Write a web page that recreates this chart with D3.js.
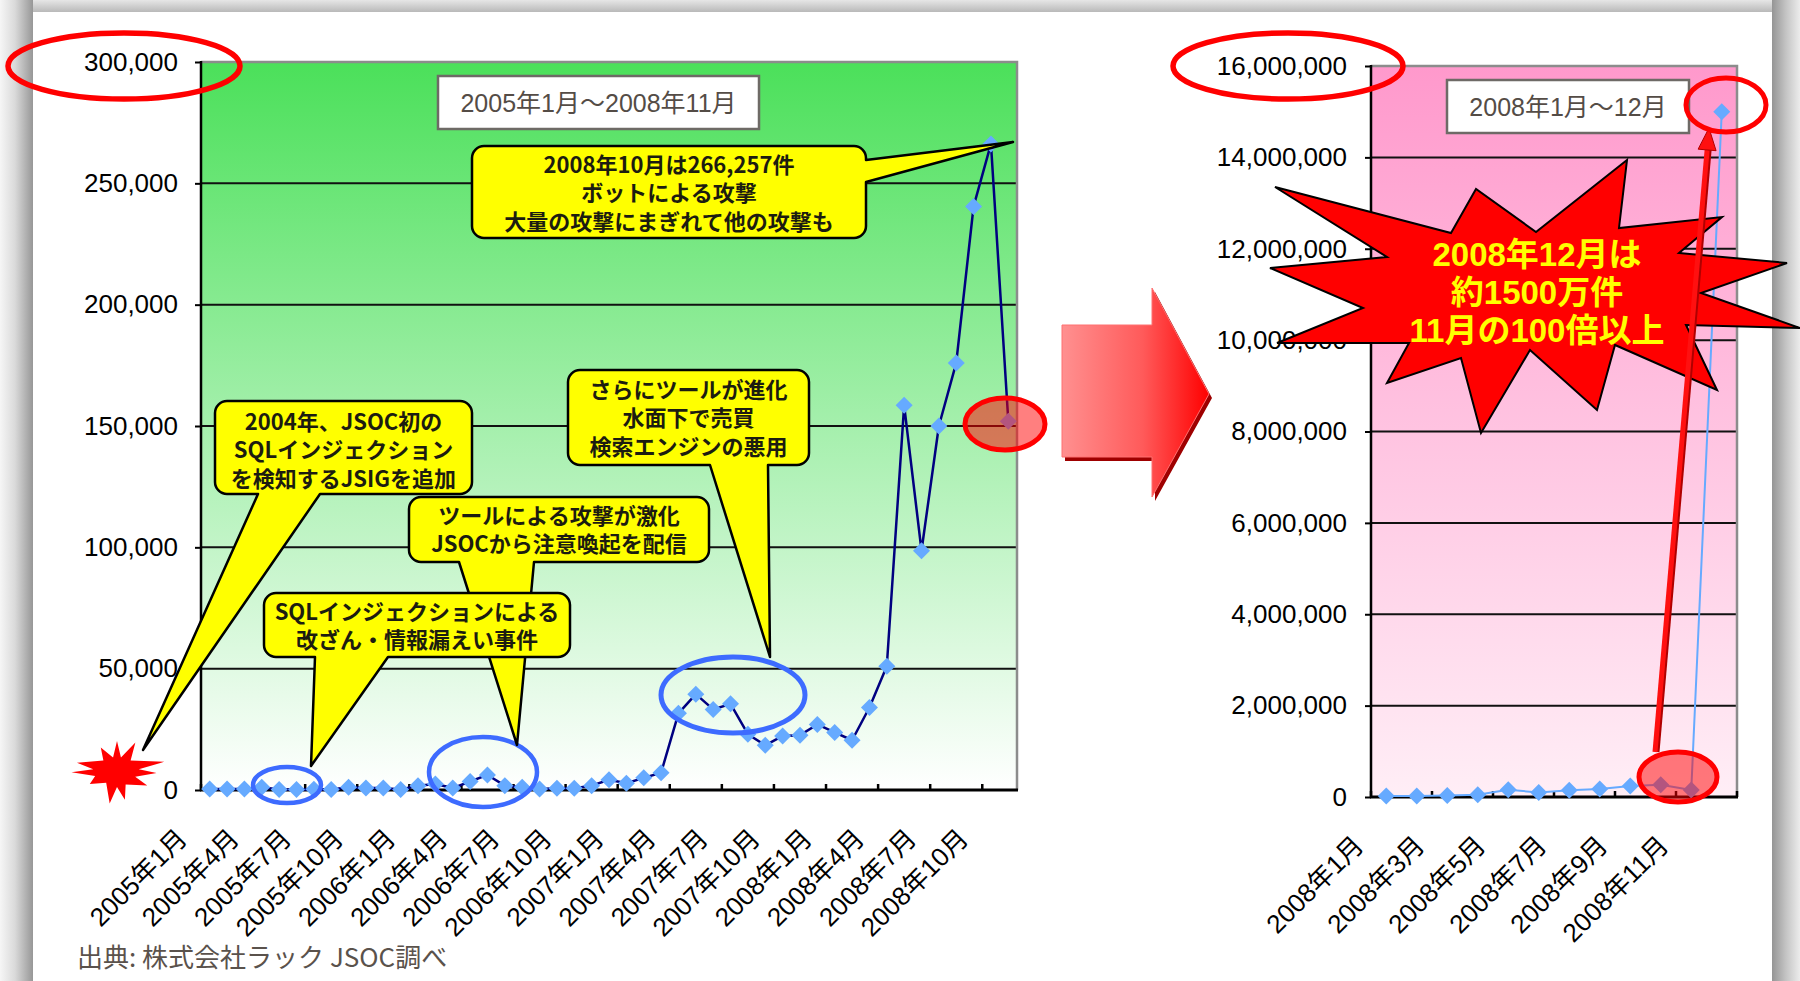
<!DOCTYPE html>
<html>
<head>
<meta charset="utf-8">
<script src="https://cdn.jsdelivr.net/npm/d3@7"></script>
<style>
  html, body { margin: 0; padding: 0; background: #ffffff; }
  svg { display: block; }
</style>
</head>
<body>
<svg id="chart" width="1800" height="981"></svg>
<script>
// ---- data -------------------------------------------------------------
// Monthly SQL-injection attack counts, Jan 2005 – Nov 2008
const monthsLong = [
  "2005年1月","2005年2月","2005年3月","2005年4月","2005年5月","2005年6月",
  "2005年7月","2005年8月","2005年9月","2005年10月","2005年11月","2005年12月",
  "2006年1月","2006年2月","2006年3月","2006年4月","2006年5月","2006年6月",
  "2006年7月","2006年8月","2006年9月","2006年10月","2006年11月","2006年12月",
  "2007年1月","2007年2月","2007年3月","2007年4月","2007年5月","2007年6月",
  "2007年7月","2007年8月","2007年9月","2007年10月","2007年11月","2007年12月",
  "2008年1月","2008年2月","2008年3月","2008年4月","2008年5月","2008年6月",
  "2008年7月","2008年8月","2008年9月","2008年10月","2008年11月"
];
const attacksLong = [
  400, 400, 400, 1100, 200, 200, 300, 200, 1100, 800, 800, 200,
  1800, 2500, 800, 3500, 6200, 1800, 1100, 400, 700, 700, 1800, 4200,
  2800, 5000, 7100, 31600, 39500, 33200, 35500, 23000, 18400, 22300, 22600, 27000,
  23700, 20500, 34000, 51000, 158500, 98600, 150000, 176000, 240500, 266257, 152000
];
const ticksLong = [0, 50000, 100000, 150000, 200000, 250000, 300000];

// Monthly counts for 2008 including December
const months2008 = [
  "2008年1月","2008年2月","2008年3月","2008年4月","2008年5月","2008年6月",
  "2008年7月","2008年8月","2008年9月","2008年10月","2008年11月","2008年12月"
];
const attacks2008 = [
  23700, 20500, 34000, 51000, 158500, 98600, 150000, 176000, 240500, 266257, 152000, 15000000
];
const ticks2008 = [0, 2000000, 4000000, 6000000, 8000000, 10000000, 12000000, 14000000, 16000000];

const titleLong = "2005年1月～2008年11月";
const title2008 = "2008年1月～12月";
const sourceNote = "出典: 株式会社ラック JSOC調べ";

// ---- fonts & helpers ---------------------------------------------------
const NUM_FONT = "'Liberation Sans', Arial, 'Noto Sans CJK JP', sans-serif";
const JP_FONT = "'Noto Sans CJK JP', 'Liberation Sans', sans-serif";

const svg = d3.select("#chart");
const defs = svg.append("defs");

function linGrad(id, x1, y1, x2, y2, stops) {
  const g = defs.append("linearGradient").attr("id", id)
    .attr("x1", x1).attr("y1", y1).attr("x2", x2).attr("y2", y2);
  stops.forEach(([o, c]) => g.append("stop").attr("offset", o).attr("stop-color", c));
}
linGrad("bgGreen", 0, 0, 0, 1, [[0, "#4be05a"], [1, "#ffffff"]]);
linGrad("bgPink", 0, 0, 0, 1, [[0, "#ff99cc"], [1, "#ffeef6"]]);
linGrad("shadeL", 0, 0, 1, 0, [[0, "#f6f6f6"], [0.45, "#dadada"], [1, "#979797"]]);
linGrad("shadeT", 0, 0, 0, 1, [[0, "#e6e6e6"], [1, "#b9b9b9"]]);
linGrad("shadeR", 0, 0, 1, 0, [[0, "#959595"], [0.5, "#c4c4c4"], [1, "#ececec"]]);
linGrad("arrowFill", 0, 0, 1, 0, [[0, "#ff9090"], [0.55, "#ff5a5a"], [1, "#ff0000"]]);

// multi-line centred text as a single element
function multiline(g, lines, x, y0, lineGap, attrs) {
  const t = g.append("text").attr("text-anchor", "middle");
  Object.entries(attrs).forEach(([k, v]) => t.attr(k, v));
  lines.forEach((s, i) => {
    t.append("tspan").attr("x", x).attr("y", y0 + i * lineGap).attr("dy", "0.36em").text(s);
  });
  return t;
}

// ---- page / card --------------------------------------------------------
svg.append("rect").attr("width", 1800).attr("height", 981).attr("fill", "#e2e2e2");
svg.append("rect").attr("x", 0).attr("y", 0).attr("width", 33).attr("height", 981).attr("fill", "url(#shadeL)");
svg.append("rect").attr("x", 33).attr("y", 0).attr("width", 1739).attr("height", 12).attr("fill", "url(#shadeT)");
svg.append("rect").attr("x", 1772).attr("y", 0).attr("width", 28).attr("height", 981).attr("fill", "url(#shadeR)");
svg.append("rect").attr("x", 33).attr("y", 12).attr("width", 1739).attr("height", 969).attr("fill", "#ffffff");

// ---- chart panel --------------------------------------------------------
function drawPanel(o) {
  const g = svg.append("g");
  const x = d3.scaleBand().domain(o.cats).range([o.left, o.right]).padding(0);
  const y = d3.scaleLinear().domain([0, o.max]).range([o.bottom, o.top]);
  const bw = x.bandwidth();
  const cx = c => x(c) + bw / 2;

  g.append("rect")
    .attr("x", o.left).attr("y", o.top)
    .attr("width", o.right - o.left).attr("height", o.bottom - o.top)
    .attr("fill", `url(#${o.bg})`);

  // horizontal gridlines
  g.selectAll("line.grid")
    .data(o.ticks.filter(t => t > 0 && t < o.max))
    .join("line").attr("class", "grid")
    .attr("x1", o.left).attr("x2", o.right)
    .attr("y1", d => y(d)).attr("y2", d => y(d))
    .attr("stroke", "#111").attr("stroke-width", 2);

  // top and right frame
  g.append("path")
    .attr("d", `M${o.left},${y(o.max)}H${o.right}V${o.bottom}`)
    .attr("fill", "none").attr("stroke", "#8c8c8c").attr("stroke-width", 2.5);

  // value axis
  const ya = g.append("g")
    .attr("transform", `translate(${o.left},0)`)
    .call(d3.axisLeft(y).tickValues(o.ticks).tickFormat(d3.format(",")).tickSize(6).tickPadding(o.pad));
  ya.select(".domain").remove();
  ya.attr("font-family", NUM_FONT).attr("font-size", 26);
  ya.selectAll("line").attr("stroke", "#000").attr("stroke-width", 2);
  ya.selectAll("text").attr("fill", "#000");

  g.append("line")
    .attr("x1", o.left).attr("x2", o.left).attr("y1", y(o.max) - 1).attr("y2", o.bottom)
    .attr("stroke", "#000").attr("stroke-width", 2.5);

  // category axis with inward ticks on category boundaries
  g.append("line")
    .attr("x1", o.left - 1).attr("x2", o.right + 1).attr("y1", o.bottom).attr("y2", o.bottom)
    .attr("stroke", "#000").attr("stroke-width", 3);
  g.selectAll("line.xt")
    .data(d3.range(0, o.cats.length + 1, o.tickEvery))
    .join("line").attr("class", "xt")
    .attr("x1", k => o.left + k * bw).attr("x2", k => o.left + k * bw)
    .attr("y1", o.bottom).attr("y2", o.bottom - 6)
    .attr("stroke", "#000").attr("stroke-width", 2.5);

  g.selectAll("text.xl")
    .data(o.cats.filter((c, i) => i % o.labelEvery === 0))
    .join("text").attr("class", "xl")
    .attr("transform", c => `translate(${cx(c) - 21},${o.bottom + 50}) rotate(-45)`)
    .attr("text-anchor", "end")
    .attr("font-family", NUM_FONT).attr("font-size", 26).attr("fill", "#000")
    .text(c => c);

  // title box
  const [bx0, by0, bx1, by1] = o.titleBox;
  g.append("rect")
    .attr("x", bx0).attr("y", by0).attr("width", bx1 - bx0).attr("height", by1 - by0)
    .attr("fill", "#fff").attr("stroke", "#6e6a66").attr("stroke-width", 2.5);
  g.append("text")
    .attr("x", (bx0 + bx1) / 2).attr("y", (by0 + by1) / 2)
    .attr("dy", "0.36em").attr("text-anchor", "middle")
    .attr("font-family", NUM_FONT).attr("font-size", 25).attr("fill", "#544c46")
    .text(o.title);

  // series line and diamond markers
  const pts = o.cats.map((c, i) => [cx(c), y(o.values[i])]);
  g.append("path")
    .attr("d", d3.line()(pts))
    .attr("fill", "none").attr("stroke", o.lineColor).attr("stroke-width", o.lineWidth)
    .attr("stroke-linejoin", "round");
  const r = 8.5;
  g.selectAll("path.mk").data(pts).join("path").attr("class", "mk")
    .attr("d", d => `M${d[0]},${d[1] - r}L${d[0] + r},${d[1]}L${d[0]},${d[1] + r}L${d[0] - r},${d[1]}Z`)
    .attr("fill", "#66aaff");

  return { x, y, cx };
}

const left = drawPanel({
  cats: monthsLong, values: attacksLong, ticks: ticksLong, max: 300000,
  left: 201, right: 1017, top: 62, bottom: 790, bg: "bgGreen", pad: 17,
  tickEvery: 3, labelEvery: 3, lineColor: "#000080", lineWidth: 2.5,
  titleBox: [438, 76, 759, 129], title: titleLong
});

// ---- annotations on the long-range chart --------------------------------
const ann = svg.append("g");

function ellipse(g, cx, cy, rx, ry, stroke, sw, fill) {
  g.append("ellipse").attr("cx", cx).attr("cy", cy).attr("rx", rx).attr("ry", ry)
    .attr("fill", fill || "none").attr("stroke", stroke).attr("stroke-width", sw);
}

// blue rings around the periods of interest
ellipse(ann, 287, 785, 34, 18, "#3d6bff", 4.5);
ellipse(ann, 483, 772, 54, 35, "#3d6bff", 4.5);
ellipse(ann, 733, 695, 72, 38, "#3d6bff", 5);

// rounded callout with a pointer wedge on its bottom or right edge
function calloutPath(c) {
  const [x0, y0, x1, y1] = c.box, r = 12;
  const [b1, b2] = c.base, [tx, ty] = c.tip;
  let d = `M${x0 + r},${y0}H${x1 - r}A${r},${r} 0 0 1 ${x1},${y0 + r}`;
  if (c.side === "right") d += `V${b1}L${tx},${ty}L${x1},${b2}`;
  d += `V${y1 - r}A${r},${r} 0 0 1 ${x1 - r},${y1}`;
  if (c.side === "bottom") d += `H${b2}L${tx},${ty}L${b1},${y1}`;
  d += `H${x0 + r}A${r},${r} 0 0 1 ${x0},${y1 - r}V${y0 + r}A${r},${r} 0 0 1 ${x0 + r},${y0}Z`;
  return d;
}

const callouts = [
  { box: [215, 401, 472, 494], side: "bottom", base: [258, 320], tip: [143, 750],
    lines: ["2004年、JSOC初の", "SQLインジェクション", "を検知するJSIGを追加"], y0: 422 },
  { box: [409, 497, 709, 562], side: "bottom", base: [459, 534], tip: [517, 745],
    lines: ["ツールによる攻撃が激化", "JSOCから注意喚起を配信"], y0: 516 },
  { box: [264, 593, 570, 657], side: "bottom", base: [315, 388], tip: [311, 766],
    lines: ["SQLインジェクションによる", "改ざん・情報漏えい事件"], y0: 612 },
  { box: [568, 370, 809, 465], side: "bottom", base: [710, 768], tip: [770, 657],
    lines: ["さらにツールが進化", "水面下で売買", "検索エンジンの悪用"], y0: 390 },
  { box: [472, 146, 866, 238], side: "right", base: [160, 182], tip: [1013, 142],
    lines: ["2008年10月は266,257件", "ボットによる攻撃", "大量の攻撃にまぎれて他の攻撃も"], y0: 165 }
];

callouts.forEach(c => {
  ann.append("path").attr("d", calloutPath(c))
    .attr("fill", "#ffff00").attr("stroke", "#000").attr("stroke-width", 2.5)
    .attr("stroke-linejoin", "round");
  multiline(ann, c.lines, (c.box[0] + c.box[2]) / 2, c.y0, 28.5, {
    "font-family": JP_FONT, "font-weight": "bold", "font-size": 22, "fill": "#1c1c10"
  });
});

// red highlight rings
ellipse(ann, 124, 66, 116, 33, "#ff0000", 5.5);
ellipse(ann, 1005, 424, 40, 26, "#ff0000", 5, "rgba(255,0,0,0.5)");

// small burst marking 2004
function burst(g, cx, cy, radii, fill, stroke) {
  const n = radii.length;
  const pts = radii.map((rr, i) => {
    const a = -Math.PI / 2 + (i / n) * 2 * Math.PI;
    return [cx + rr[0] * Math.cos(a), cy + rr[1] * Math.sin(a)];
  });
  g.append("path").attr("d", "M" + pts.join("L") + "Z")
    .attr("fill", fill).attr("stroke", stroke || "none");
}
const burstRadii = [
  [30, 30], [14, 14], [34, 34], [18, 16], [52, 22], [22, 12], [40, 14], [20, 14],
  [40, 22], [16, 16], [28, 30], [14, 16], [26, 34], [20, 14], [36, 20], [24, 12],
  [46, 8], [24, 12], [44, 20], [18, 16], [30, 28], [14, 14]
];
burst(ann, 117, 771, burstRadii, "#ff0000");

// block arrow between the two charts
const arrowPts = [[1062, 325], [1152, 325], [1152, 288], [1209, 394], [1152, 497], [1152, 457], [1062, 457]];
ann.append("path").attr("d", "M" + arrowPts.map(p => [p[0] + 3, p[1] + 4]).join("L") + "Z")
  .attr("fill", "#9e0000");
ann.append("path").attr("d", "M" + arrowPts.join("L") + "Z")
  .attr("fill", "url(#arrowFill)").attr("stroke", "#ff7070").attr("stroke-width", 1);

// ---- 2008 chart -----------------------------------------------------------
const right = drawPanel({
  cats: months2008, values: attacks2008, ticks: ticks2008, max: 16000000,
  left: 1371, right: 1737, top: 66, bottom: 797, bg: "bgPink", pad: 18,
  tickEvery: 2, labelEvery: 2, lineColor: "#66aaff", lineWidth: 2,
  titleBox: [1447, 80, 1689, 133], title: title2008
});

const ann2 = svg.append("g");

// explosion shape with the December figure
const starPts = [
  [1275, 187], [1451, 233], [1476, 189], [1536, 232], [1627, 160], [1619, 228],
  [1722, 217], [1679, 253], [1787, 263], [1701, 293], [1800, 328], [1686, 325],
  [1717, 390], [1615, 345], [1597, 410], [1530, 350], [1481, 433], [1461, 358],
  [1387, 383], [1409, 343], [1277, 343], [1363, 308], [1270, 268], [1387, 257]
];
ann2.append("path").attr("d", "M" + starPts.join("L") + "Z")
  .attr("fill", "#ff0000").attr("stroke", "#000").attr("stroke-width", 2)
  .attr("stroke-linejoin", "miter");
multiline(ann2, ["2008年12月は", "約1500万件", "11月の100倍以上"], 1537, 254, 38, {
  "font-family": NUM_FONT, "font-weight": "bold", "font-size": 33, "fill": "#ffff00"
});

// arrow from November up to December
const a0 = [1655, 752], a1 = [1709, 128];
const len = Math.hypot(a1[0] - a0[0], a1[1] - a0[1]);
const ux = (a1[0] - a0[0]) / len, uy = (a1[1] - a0[1]) / len;
const hb = [a1[0] - 22 * ux, a1[1] - 22 * uy];
ann2.append("line").attr("x1", a0[0] + 2.5).attr("y1", a0[1]).attr("x2", hb[0] + 2.5).attr("y2", hb[1])
  .attr("stroke", "#b00000").attr("stroke-width", 4);
ann2.append("line").attr("x1", a0[0]).attr("y1", a0[1]).attr("x2", hb[0]).attr("y2", hb[1])
  .attr("stroke", "#ff1010").attr("stroke-width", 5);
ann2.append("path")
  .attr("d", `M${a1[0]},${a1[1]}L${hb[0] - 9 * uy},${hb[1] + 9 * ux}L${hb[0] + 9 * uy},${hb[1] - 9 * ux}Z`)
  .attr("fill", "#ff1010").attr("stroke", "#b00000").attr("stroke-width", 1);

// red highlight rings on the 2008 chart
ellipse(ann2, 1288, 66, 115, 33, "#ff0000", 5.5);
ellipse(ann2, 1726, 105, 40, 27, "#ff0000", 5);
ellipse(ann2, 1678, 777, 39, 25, "#ff0000", 5, "rgba(255,0,0,0.5)");

// source note
svg.append("text").attr("x", 77).attr("y", 967)
  .attr("font-family", JP_FONT).attr("font-size", 26).attr("fill", "#5a524c")
  .text(sourceNote);
</script>
</body>
</html>
